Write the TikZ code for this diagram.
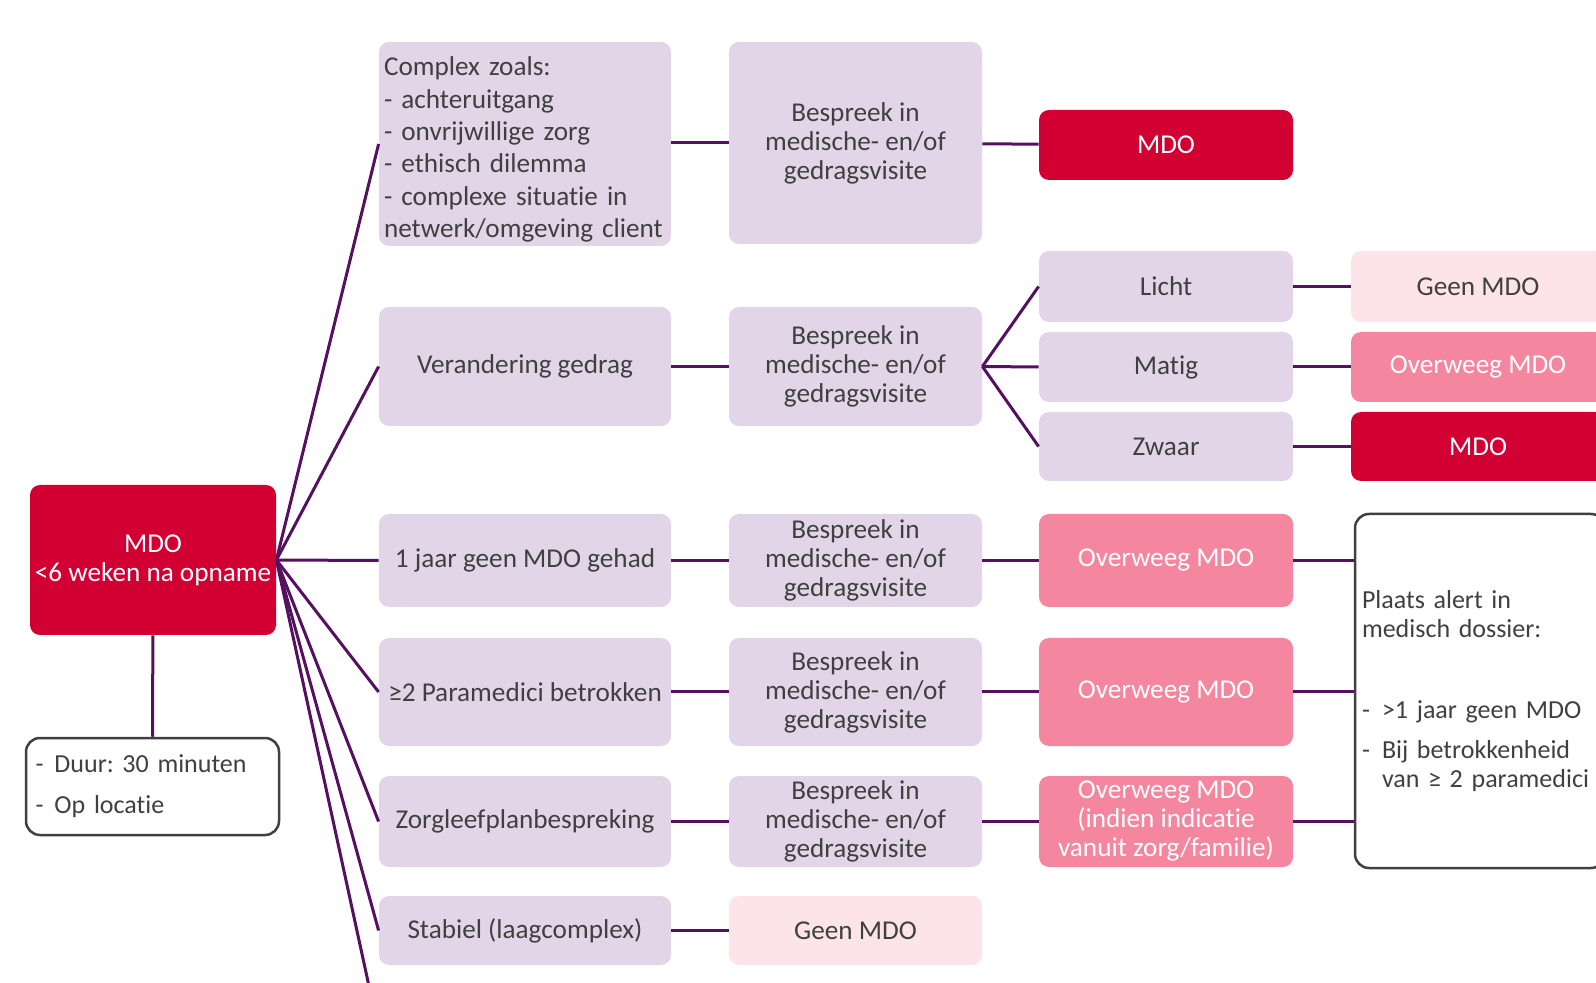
\documentclass[tikz,border=0pt]{standalone}
\usepackage{fontspec}
\setmainfont{Carlito}[Ligatures=NoCommon]
\usetikzlibrary{positioning,calc}
\definecolor{PlanLav}{HTML}{E1D5E7}
\definecolor{PlanRed}{HTML}{D20032}
\definecolor{PlanPink}{HTML}{F4879F}
\definecolor{PlanPale}{HTML}{FCE4EA}
\definecolor{PlanPurple}{HTML}{561060}
\definecolor{PlanInk}{HTML}{404040}
\frenchspacing

\begin{document}
\begin{tikzpicture}[x=0.5pt, y=-0.5pt, font=\fontsize{13.6}{14.5}\selectfont,
  box/.style={rounded corners=5pt, inner sep=0pt, align=center, text=PlanInk},
  crit/.style={box, fill=PlanLav, minimum width=146pt},
  talk/.style={box, fill=PlanLav, minimum width=126.5pt},
  grade/.style={box, fill=PlanLav, minimum width=127pt},
  mdo/.style={box, fill=PlanRed, text=white, minimum width=127pt},
  maybe/.style={box, fill=PlanPink, text=white, minimum width=127pt},
  none/.style={box, fill=PlanPale, minimum width=127pt},
  note/.style={draw=PlanInk, line width=1.25pt, fill=white, rounded corners=7pt,
               inner sep=0pt, align=left, text=PlanInk, font=\fontsize{13}{14.5}\selectfont},
  link/.style={PlanPurple, line width=1.5pt}]
%% page frame; the right column runs off the edge as in the scan
\useasboundingbox (0,0) rectangle (1596,983);
\fill[white] (0,0) rectangle (1596,983);
\clip (0,0) rectangle (1596,983);
%% start box and its note
\node[box, fill=PlanRed, text=white, minimum width=123pt, minimum height=75pt] (start) at (153,560)
  {MDO\\<6 weken na opname};
\node[note, minimum width=126.5pt, minimum height=48.5pt, text width=117pt] (duration) at (152.5,786.5)
  {\makebox[9.5pt][l]{-}Duur: 30 minuten\\[6pt]\makebox[9.5pt][l]{-}Op locatie};
\draw[link] (start) -- (duration);
%% criteria
\node[crit, minimum height=102pt, text width=141pt, align=left, font=\fontsize{13.6}{16.2}\selectfont] (complex) at (525,144)
  {\rule{0pt}{15pt}Complex zoals:\\- achteruitgang\\- onvrijwillige zorg\\- ethisch dilemma\\- complexe situatie in\\netwerk/omgeving client};
\node[crit, minimum height=59.5pt] (behaviour) at (525,366.5) {Verandering gedrag};
\node[crit, minimum height=46.5pt] (year) at (525,560.5) {1 jaar geen MDO gehad};
\node[crit, minimum height=54pt] (para) at (525,692) {≥2 Paramedici betrokken};
\node[crit, minimum height=45.5pt] (plan) at (525,821.5) {Zorgleefplanbespreking};
\node[crit, minimum height=34.5pt] (stable) at (525,930.5) {Stabiel (laagcomplex)};
\coordinate (offpage) at (372,1000);
\foreach \c in {complex,behaviour,year,para,plan,stable}
  \draw[link] (start.east) -- (\c.west);
\draw[link] (start.east) -- (offpage);
%% discussion
\foreach \c/\y/\h in {complex/143/101pt, behaviour/366.5/59.5pt, year/560.5/46.5pt, para/692/54pt, plan/821.5/45.5pt}
  {\node[talk, minimum height=\h] (talk-\c) at (855.5,\y) {Bespreek in\\medische- en/of\\gedragsvisite};
   \draw[link] (talk-\c.west -| \c.east) -- (talk-\c);}
\node[none, minimum width=126.5pt, minimum height=34.5pt] (talk-stable) at (855.5,930.5) {Geen MDO};
\draw[link] (stable) -- (talk-stable);
%% outcomes
\node[mdo, minimum height=35pt] (out-complex) at (1166,145) {MDO};
\node[grade, minimum height=35.5pt] (light) at (1166,286.5) {Licht};
\node[grade, minimum height=35pt] (medium) at (1166,367) {Matig};
\node[grade, minimum height=34.5pt] (heavy) at (1166,446.5) {Zwaar};
\node[maybe, minimum height=46.5pt] (out-year) at (1166,560.5) {Overweeg MDO};
\node[maybe, minimum height=54pt] (out-para) at (1166,692) {Overweeg MDO};
\node[maybe, minimum height=45.5pt] (out-plan) at (1166,821.5) {Overweeg MDO\\(indien indicatie\\vanuit zorg/familie)};
\draw[link] (talk-complex) -- (out-complex);
\foreach \c in {light,medium,heavy}
  \draw[link] (talk-behaviour.east) -- (\c.west);
\foreach \c in {year,para,plan}
  \draw[link] (talk-\c) -- (out-\c);
%% right column
\node[none, minimum height=35.5pt] (light-out) at (1478,286.5) {Geen MDO};
\node[maybe, minimum height=35pt] (medium-out) at (1478,367) {Overweeg MDO};
\node[mdo, minimum height=34.5pt] (heavy-out) at (1478,446.5) {MDO};
\foreach \c in {light,medium,heavy}
  \draw[link] (\c) -- (\c-out);
\node[note, minimum width=125pt, minimum height=177pt, text width=118pt] (alert) at (1480,691)
  {Plaats alert in\\medisch dossier:\\[26pt]\makebox[10pt][l]{-}>1 jaar geen MDO\\[5.5pt]
   \makebox[10pt][l]{-}Bij betrokkenheid\\\hspace*{10pt}\mbox{van ≥ 2 paramedici}};
\foreach \c in {year,para,plan}
  \draw[link] (out-\c.east) -- (out-\c.east -| alert.west);
\end{tikzpicture}
\end{document}
